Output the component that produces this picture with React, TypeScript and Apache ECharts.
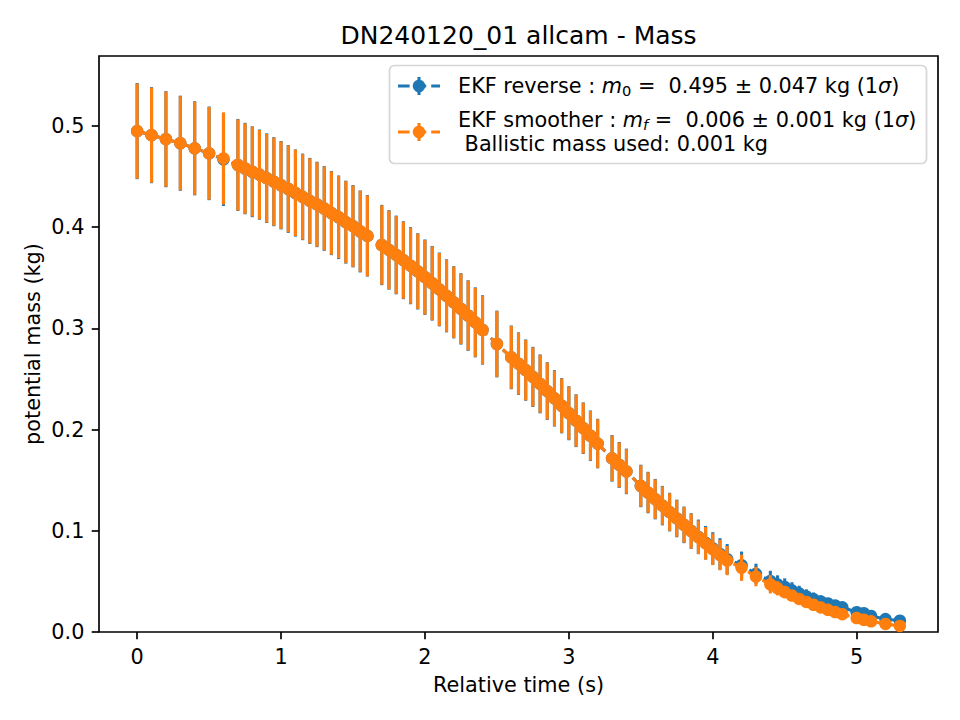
import React, { useEffect, useRef } from "react";
import * as echarts from "echarts";

// Relative time of each state estimate (s)
const timeS = [
  0, 0.1, 0.2, 0.3, 0.4, 0.5, 0.6,
  0.7, 0.75, 0.8, 0.85, 0.9, 0.95, 1.0, 1.05, 1.1, 1.15, 1.2, 1.25, 1.3, 1.35, 1.4, 1.45, 1.5, 1.55, 1.6,
  1.7, 1.75, 1.8, 1.85, 1.9, 1.95, 2.0, 2.05, 2.1, 2.15, 2.2, 2.25, 2.3, 2.35, 2.4,
  2.5,
  2.6, 2.65, 2.7, 2.75, 2.8, 2.85, 2.9, 2.95, 3.0, 3.05, 3.1, 3.15, 3.2,
  3.3, 3.35, 3.4,
  3.5, 3.55, 3.6, 3.65, 3.7, 3.75, 3.8, 3.85, 3.9, 3.95, 4.0, 4.05, 4.1,
  4.2, 4.3,
  4.4, 4.45, 4.5, 4.55, 4.6, 4.65, 4.7, 4.75, 4.8, 4.85, 4.9,
  5.0, 5.05, 5.1,
  5.2, 5.3,
];

// EKF reverse: mass estimate and 1-sigma (kg)
const reverseMass = [
  0.495, 0.491, 0.487, 0.483, 0.478, 0.473, 0.467,
  0.4615, 0.458, 0.4548, 0.452, 0.4485, 0.445, 0.4415, 0.4378, 0.4338, 0.43, 0.426, 0.4225, 0.4185, 0.414, 0.4098, 0.405, 0.401, 0.3958, 0.3915,
  0.3824, 0.3776, 0.3726, 0.3674, 0.362, 0.3564, 0.3506, 0.3446, 0.3385, 0.3322, 0.3258, 0.3193, 0.3127, 0.306, 0.2985,
  0.2846,
  0.2714, 0.2652, 0.2588, 0.2521, 0.2452, 0.2381, 0.2309, 0.2236, 0.2162, 0.2088, 0.2014, 0.1939, 0.1862,
  0.1716, 0.1651, 0.1587,
  0.1443, 0.1378, 0.1313, 0.1249, 0.1185, 0.1122, 0.1059, 0.0998, 0.094, 0.0882, 0.0825, 0.0772, 0.072,
  0.066, 0.0575,
  0.0505, 0.047, 0.0445, 0.0412, 0.0382, 0.0352, 0.0325, 0.0302, 0.0282, 0.0262, 0.0244,
  0.0195, 0.0185, 0.0158,
  0.0128, 0.0112,
];
const reverseErr = [
  0.0475, 0.0475, 0.0475, 0.047, 0.0465, 0.0463, 0.046,
  0.0455, 0.0452, 0.0449, 0.0446, 0.0443, 0.044, 0.0437, 0.0434, 0.0431, 0.0428, 0.0425, 0.0422, 0.0419, 0.0416, 0.0413, 0.041, 0.0407, 0.0405, 0.0403,
  0.0397, 0.0393, 0.0389, 0.0385, 0.0381, 0.0377, 0.0373, 0.0369, 0.0365, 0.0361, 0.0357, 0.0353, 0.0349, 0.0346, 0.0343,
  0.033,
  0.0315, 0.0309, 0.0303, 0.0297, 0.0291, 0.0285, 0.0279, 0.0273, 0.0267, 0.0261, 0.0255, 0.025, 0.0245,
  0.023, 0.0227, 0.0225,
  0.021, 0.0205, 0.02, 0.0195, 0.0191, 0.0186, 0.0181, 0.0176, 0.0171, 0.0166, 0.0161, 0.0155, 0.0149,
  0.0135, 0.01,
  0.01, 0.009, 0.0085, 0.008, 0.0075, 0.007, 0.0065, 0.006, 0.0055, 0.005, 0.005,
  0.004, 0.004, 0.0035,
  0.003, 0.003,
];

// EKF smoother: mass estimate and 1-sigma (kg)
const smootherMass = [
  0.495, 0.491, 0.487, 0.483, 0.478, 0.473, 0.468,
  0.4615, 0.458, 0.455, 0.452, 0.4485, 0.445, 0.4415, 0.438, 0.434, 0.43, 0.426, 0.4225, 0.4185, 0.414, 0.41, 0.405, 0.401, 0.396, 0.3915,
  0.3824, 0.3776, 0.3726, 0.3674, 0.362, 0.3564, 0.3506, 0.3446, 0.3385, 0.3322, 0.3258, 0.3193, 0.3127, 0.306, 0.2985,
  0.2846,
  0.2714, 0.2652, 0.2588, 0.2521, 0.2452, 0.2381, 0.2309, 0.2236, 0.2162, 0.2088, 0.2014, 0.1939, 0.1862,
  0.1716, 0.1651, 0.1587,
  0.1443, 0.1378, 0.1313, 0.1249, 0.1185, 0.1122, 0.1059, 0.0997, 0.0936, 0.0876, 0.0817, 0.076, 0.0705,
  0.0635, 0.0547,
  0.0471, 0.0432, 0.0395, 0.036, 0.0327, 0.0297, 0.0269, 0.0243, 0.0219, 0.0197, 0.0176,
  0.0138, 0.0121, 0.0105,
  0.008, 0.006,
];
const smootherErr = [
  0.047, 0.047, 0.047, 0.0465, 0.046, 0.0458, 0.0455,
  0.045, 0.0447, 0.0444, 0.0441, 0.0438, 0.0435, 0.0432, 0.0429, 0.0426, 0.0423, 0.042, 0.0417, 0.0414, 0.0411, 0.0408, 0.0405, 0.0402, 0.04, 0.0398,
  0.0392, 0.0388, 0.0384, 0.038, 0.0376, 0.0372, 0.0368, 0.0364, 0.036, 0.0356, 0.0352, 0.0348, 0.0344, 0.0341, 0.0338,
  0.0325,
  0.031, 0.0304, 0.0298, 0.0292, 0.0286, 0.028, 0.0274, 0.0268, 0.0262, 0.0256, 0.025, 0.0245, 0.024,
  0.0225, 0.0222, 0.022,
  0.0205, 0.02, 0.0195, 0.019, 0.0186, 0.0181, 0.0176, 0.0171, 0.0166, 0.0161, 0.0156, 0.015, 0.0144,
  0.013, 0.0095,
  0.009, 0.007, 0.006, 0.005, 0.0045, 0.004, 0.0035, 0.003, 0.003, 0.0025, 0.002,
  0.0015, 0.0013, 0.0012,
  0.001, 0.001,
];

const xTicks = [0, 1, 2, 3, 4, 5];
const yTicks = [0, 0.1, 0.2, 0.3, 0.4, 0.5];

const FONT = "DejaVu Sans";
const BLUE = "#1f77b4";
const ORANGE = "#ff7f0e";
const LW = 3.1;
const DASH = [11.6, 5];

function errorBarSeries(name: string, mass: number[], err: number[], color: string, z: number) {
  return {
    type: "custom",
    name,
    z,
    data: timeS.map((t, i) => [t, mass[i], err[i]]),
    encode: { x: 0, y: 1 },
    renderItem: (_params: any, api: any) => {
      const t = api.value(0);
      const m = api.value(1);
      const e = api.value(2);
      const lo = api.coord([t, m - e]);
      const hi = api.coord([t, m + e]);
      return {
        type: "line",
        shape: { x1: lo[0], y1: lo[1], x2: hi[0], y2: hi[1] },
        style: { stroke: color, lineWidth: LW, fill: null },
      };
    },
  };
}

function markerSeries(name: string, mass: number[], color: string, z: number) {
  return {
    type: "line",
    name,
    z,
    data: timeS.map((t, i) => [t, mass[i]]),
    symbol: "circle",
    symbolSize: 12.5,
    showSymbol: true,
    showAllSymbol: true,
    itemStyle: { color, borderWidth: 0 },
    lineStyle: { color, width: LW, type: DASH },
    emphasis: { disabled: true },
  };
}

function legendHandle(cx: number, cy: number, color: string) {
  return [
    {
      type: "line",
      shape: { x1: cx - 21, y1: cy, x2: cx + 21, y2: cy },
      style: { stroke: color, lineWidth: LW, lineDash: DASH },
      z: 101,
    },
    {
      type: "line",
      shape: { x1: cx, y1: cy - 9, x2: cx, y2: cy + 9 },
      style: { stroke: color, lineWidth: LW },
      z: 102,
    },
    {
      type: "circle",
      shape: { cx, cy, r: 6.25 },
      style: { fill: color },
      z: 103,
    },
  ];
}

const richStyles = {
  n: { fontFamily: FONT, fontSize: 20.8, lineHeight: 24, color: "#000" },
  i: { fontFamily: FONT, fontSize: 20.8, lineHeight: 24, fontStyle: "italic", color: "#000" },
  s: { fontFamily: FONT, fontSize: 14.6, lineHeight: 24, verticalAlign: "bottom", color: "#000" },
  si: { fontFamily: FONT, fontSize: 14.6, lineHeight: 24, verticalAlign: "bottom", fontStyle: "italic", color: "#000" },
};

export default function App() {
  const ref = useRef<HTMLDivElement>(null);

  useEffect(() => {
    if (!ref.current) return;
    const chart = echarts.init(ref.current, null, { renderer: "svg" });

    const option = {
      animation: false,
      backgroundColor: "#ffffff",
      textStyle: { fontFamily: FONT },
      grid: {
        left: 99,
        right: 22,
        top: 56,
        bottom: 88,
        show: true,
        borderColor: "#000",
        borderWidth: 1.67,
        backgroundColor: "transparent",
        containLabel: false,
      },
      xAxis: {
        type: "value",
        min: -0.265,
        max: 5.565,
        axisLine: { show: false, onZero: false },
        splitLine: { show: false },
        axisTick: {
          show: true,
          length: 7.3,
          customValues: xTicks,
          lineStyle: { color: "#000", width: 1.67 },
        },
        axisLabel: {
          show: true,
          customValues: xTicks,
          margin: 14.6,
          fontSize: 20.8,
          fontFamily: FONT,
          color: "#000",
          formatter: (v: number) => String(v),
        },
      },
      yAxis: {
        type: "value",
        min: 0,
        max: 0.5692,
        axisLine: { show: false, onZero: false },
        splitLine: { show: false },
        axisTick: {
          show: true,
          length: 7.3,
          customValues: yTicks,
          lineStyle: { color: "#000", width: 1.67 },
        },
        axisLabel: {
          show: true,
          customValues: yTicks,
          margin: 14.6,
          fontSize: 20.8,
          fontFamily: FONT,
          color: "#000",
          formatter: (v: number) => v.toFixed(1),
        },
      },
      series: [
        errorBarSeries("EKF reverse err", reverseMass, reverseErr, BLUE, 1),
        markerSeries("EKF reverse", reverseMass, BLUE, 2),
        errorBarSeries("EKF smoother err", smootherMass, smootherErr, ORANGE, 3),
        markerSeries("EKF smoother", smootherMass, ORANGE, 4),
      ],
      graphic: [
        {
          type: "text",
          x: 518.5,
          y: 35,
          style: {
            text: "DN240120_01 allcam - Mass",
            fontFamily: FONT,
            fontSize: 25,
            fill: "#000",
            align: "center",
            verticalAlign: "middle",
          },
        },
        {
          type: "text",
          x: 518.5,
          y: 685,
          style: {
            text: "Relative time (s)",
            fontFamily: FONT,
            fontSize: 20.8,
            fill: "#000",
            align: "center",
            verticalAlign: "middle",
          },
        },
        {
          type: "text",
          x: 33,
          y: 344,
          rotation: Math.PI / 2,
          style: {
            text: "potential mass (kg)",
            fontFamily: FONT,
            fontSize: 20.8,
            fill: "#000",
            align: "center",
            verticalAlign: "middle",
          },
        },
        {
          type: "rect",
          shape: { x: 389.5, y: 65.5, width: 537, height: 98, r: 5 },
          style: { fill: "rgba(255,255,255,0.8)", stroke: "#d6d6d6", lineWidth: 1.67 },
          z: 100,
        },
        ...legendHandle(419, 86, BLUE),
        ...legendHandle(419, 132, ORANGE),
        {
          type: "text",
          x: 458,
          y: 86,
          z: 104,
          style: {
            text: "{n|EKF reverse : }{i|m}{s|0}{n| =  0.495 ± 0.047 kg (1}{i|σ}{n|)}",
            rich: richStyles,
            verticalAlign: "middle",
            align: "left",
          },
        },
        {
          type: "text",
          x: 458,
          y: 132,
          z: 104,
          style: {
            text:
              "{n|EKF smoother : }{i|m}{si|f}{n| =  0.006 ± 0.001 kg (1}{i|σ}{n|)}\n{n| Ballistic mass used: 0.001 kg}",
            rich: richStyles,
            verticalAlign: "middle",
            align: "left",
          },
        },
      ],
    };

    chart.setOption(option as any);
    return () => chart.dispose();
  }, []);

  return (
    <div
      ref={ref}
      style={{ position: "fixed", left: 0, top: 0, width: 960, height: 720, background: "#fff" }}
    />
  );
}
